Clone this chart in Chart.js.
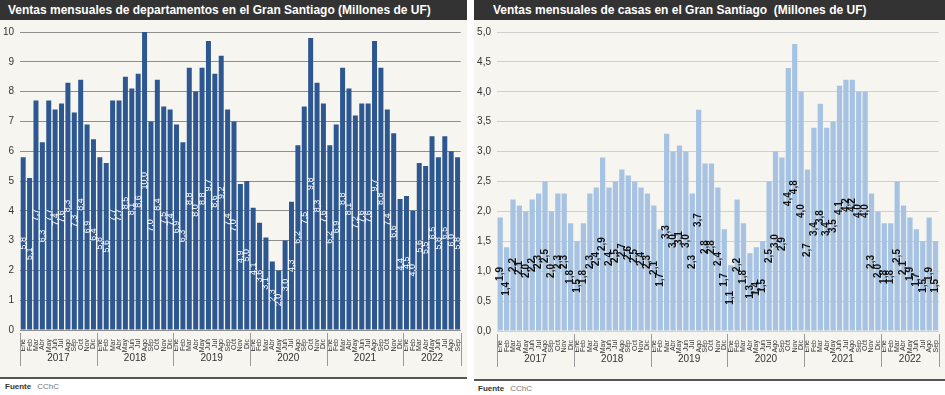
<!DOCTYPE html>
<html>
<head>
<meta charset="utf-8">
<script src="https://cdn.jsdelivr.net/npm/chart.js@4"></script>
<style>
  body { margin: 0; width: 945px; height: 395px; background: #fff; font-family: "Liberation Sans", Arial, sans-serif; position: relative; overflow: hidden; }
  .panel { position: absolute; top: 0; background: #f7f5f0; }
  .title { position: absolute; top: 0; height: 20px; background: #333333; color: #fff; font-weight: bold; font-size: 12px; line-height: 21px; white-space: pre; }
  .foot { position: absolute; height: 2px; background: #555; }
  .src { position: absolute; font-size: 8px; color: #777; }
  .src b { color: #333; margin-right: 6px; }
  canvas { position: absolute; }
</style>
</head>
<body>
<div class="panel" style="left:0;width:467px;height:378px"></div>
<div class="panel" style="left:474px;width:471px;height:380px"></div>
<div class="title" style="left:0;width:467px;padding-left:8px;box-sizing:border-box">Ventas mensuales de departamentos en el Gran Santiago (Millones de UF)</div>
<div class="title" style="left:474px;width:471px;padding-left:19px;box-sizing:border-box">Ventas mensuales de casas en el Gran Santiago  (Millones de UF)</div>
<div class="foot" style="left:0;top:377px;width:467px"></div>
<div class="foot" style="left:474px;top:379px;width:471px"></div>
<div class="src" style="left:5px;top:382px"><b>Fuente</b>CChC</div>
<div class="src" style="left:478px;top:384px"><b>Fuente</b>CChC</div>
<canvas id="c1" width="467" height="358" style="left:0;top:20px"></canvas>
<canvas id="c2" width="471" height="360" style="left:474px;top:20px"></canvas>
<script>
const years = ['2017', '2018', '2019', '2020', '2021', '2022'];
const monthNames = ['Ene', 'Feb', 'Mar', 'Abr', 'May', 'Jun', 'Jul', 'Ago', 'Sep', 'Oct', 'Nov', 'Dic'];
const monthsLastYear = 9; // datos hasta Sep 2022

// ventas departamentos (millones de UF)
const deptos = [
  5.8, 5.1, 7.7, 6.3, 7.7, 7.4, 7.6, 8.3, 7.3, 8.4, 6.9, 6.4,
  5.8, 5.6, 7.7, 7.7, 8.5, 8.1, 8.6, 10.0, 7.0, 8.4, 7.5, 7.4,
  6.9, 6.3, 8.8, 8.0, 8.8, 9.7, 8.6, 9.2, 7.4, 7.0, 4.9, 5.0,
  4.1, 3.6, 3.1, 2.3, 2.0, 3.0, 4.3, 6.2, 7.5, 9.8, 8.3, 7.6,
  6.2, 6.9, 8.8, 8.1, 7.2, 7.6, 7.6, 9.7, 8.8, 7.4, 6.6, 4.4,
  4.5, 4.0, 5.6, 5.5, 6.5, 5.8, 6.5, 6.0, 5.8
];
// ventas casas (millones de UF)
const casas = [
  1.9, 1.4, 2.2, 2.1, 2.0, 2.2, 2.3, 2.5, 2.0, 2.3, 2.3, 1.8,
  1.5, 1.8, 2.3, 2.4, 2.9, 2.4, 2.5, 2.7, 2.6, 2.5, 2.4, 2.3,
  2.1, 1.7, 3.3, 3.0, 3.1, 3.0, 2.3, 3.7, 2.8, 2.8, 2.4, 1.7,
  1.1, 2.2, 1.8, 1.3, 1.4, 1.5, 2.5, 3.0, 2.9, 4.4, 4.8, 4.0,
  2.7, 3.4, 3.8, 3.4, 3.5, 4.1, 4.2, 4.2, 4.0, 4.0, 2.3, 2.0,
  1.8, 1.8, 2.5, 2.1, 1.9, 1.7, 1.5, 1.9, 1.5
];

const labels = [];
years.forEach((y, i) => {
  const n = i === years.length - 1 ? monthsLastYear : 12;
  for (let m = 0; m < n; m++) labels.push(monthNames[m]);
});

const fmt = v => v.toFixed(1).replace('.', ',');

// etiquetas de valor rotadas dentro de cada barra
const barLabels = {
  id: 'barLabels',
  afterDatasetsDraw(chart, args, opts) {
    const ctx = chart.ctx;
    chart.getDatasetMeta(0).data.forEach((bar, i) => {
      const v = chart.data.datasets[0].data[i];
      ctx.save();
      ctx.translate(bar.x, (bar.y + bar.base) / 2);
      ctx.rotate(-Math.PI / 2);
      ctx.font = opts.font;
      ctx.fillStyle = opts.color;
      ctx.textAlign = 'center';
      ctx.textBaseline = 'middle';
      ctx.fillText(fmt(v), 0, 0);
      ctx.restore();
    });
  }
};

// años bajo los meses + separadores
const yearAxis = {
  id: 'yearAxis',
  afterDraw(chart) {
    const ctx = chart.ctx, x = chart.scales.x, area = chart.chartArea;
    const step = x.getPixelForValue(1) - x.getPixelForValue(0);
    let idx = 0;
    ctx.save();
    ctx.strokeStyle = '#9a9a9a';
    ctx.lineWidth = 1;
    ctx.fillStyle = '#333';
    ctx.font = '10px "Liberation Sans", Arial';
    ctx.textAlign = 'center';
    ctx.textBaseline = 'middle';
    years.forEach((y, i) => {
      const n = i === years.length - 1 ? monthsLastYear : 12;
      const x0 = x.getPixelForValue(idx) - step / 2;
      const x1 = x.getPixelForValue(idx + n - 1) + step / 2;
      ctx.beginPath();
      ctx.moveTo(Math.round(x0) + 0.5, area.bottom + 3);
      ctx.lineTo(Math.round(x0) + 0.5, area.bottom + 36);
      ctx.stroke();
      if (i === years.length - 1) {
        ctx.beginPath();
        ctx.moveTo(Math.round(x1) + 0.5, area.bottom + 3);
        ctx.lineTo(Math.round(x1) + 0.5, area.bottom + 36);
        ctx.stroke();
      }
      ctx.fillText(y, (x0 + x1) / 2, area.bottom + 28);
      idx += n;
    });
    ctx.restore();
  }
};

function makeChart(id, data, color, yOpts, labelOpts, gridColor, yWidth, xHeight, pad, catPct) {
  return new Chart(document.getElementById(id), {
    type: 'bar',
    data: { labels, datasets: [{ data, backgroundColor: color, barPercentage: 1, categoryPercentage: catPct }] },
    options: {
      responsive: false,
      animation: false,
      layout: { padding: pad },
      plugins: { legend: { display: false }, tooltip: { enabled: false }, barLabels: labelOpts },
      scales: {
        x: {
          grid: { display: false },
          border: { display: false },
          ticks: { autoSkip: false, maxRotation: 90, minRotation: 90, padding: 1, color: '#333', font: { size: 7, family: '"Liberation Sans", Arial' } },
          afterFit: s => { s.height = xHeight; }
        },
        y: Object.assign({
          border: { display: false },
          grid: { color: gridColor, drawTicks: false },
          afterFit: s => { s.width = yWidth; }
        }, yOpts)
      }
    },
    plugins: [barLabels, yearAxis]
  });
}

makeChart('c1', deptos, '#2c5791',
  { min: 0, max: 10, ticks: { stepSize: 1, padding: 6, color: '#333', font: { size: 10, family: '"Liberation Sans", Arial' } } },
  { font: '9px "Liberation Sans", Arial', color: '#ffffff' },
  '#8e8e8e', 20, 48, { top: 10, right: 4, left: 0, bottom: 0 }, 0.78);

makeChart('c2', casas, '#a7c3e4',
  { min: 0, max: 5, ticks: { stepSize: 0.5, padding: 6, color: '#333', font: { size: 10, family: '"Liberation Sans", Arial' }, callback: v => fmt(v) } },
  { font: 'bold 10px "Liberation Sans", Arial', color: '#111' },
  '#cfcfcf', 23, 49, { top: 10, right: 5, left: 0, bottom: 0 }, 0.82);
</script>
</body>
</html>
